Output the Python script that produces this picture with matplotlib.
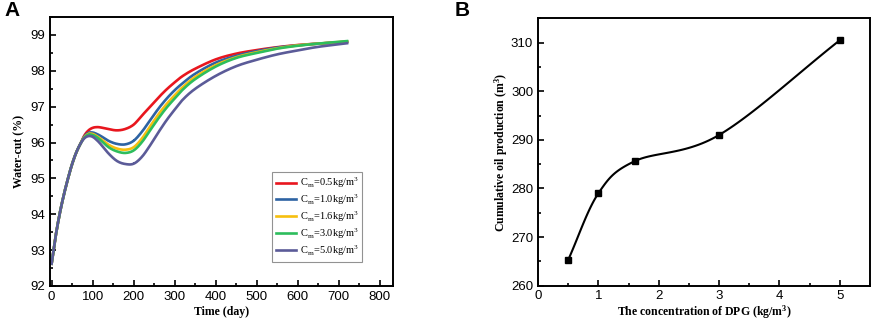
import numpy as np
import matplotlib.pyplot as plt
from matplotlib.ticker import MultipleLocator

plt.rcParams['font.family'] = 'Liberation Sans'
plt.rcParams['mathtext.fontset'] = 'stix'

# Panel A: water-cut vs time for each DPG concentration
time = [0, 10, 20, 30, 40, 50, 60, 70, 80, 90, 100, 110, 120, 140, 160, 180,
        200, 220, 240, 260, 280, 300, 320, 350, 400, 450, 500, 550, 600, 650, 720]
early = [92.62, 93.4, 94.03, 94.55, 95.0, 95.4, 95.72, 95.96]
wc_05 = early + [96.2, 96.34, 96.41, 96.43, 96.42, 96.37, 96.34, 96.38, 96.5, 96.75,
                 97.0, 97.25, 97.48, 97.68, 97.86, 98.06, 98.32, 98.48, 98.58, 98.66,
                 98.72, 98.76, 98.81]
wc_10 = early + [96.17, 96.27, 96.28, 96.24, 96.18, 96.04, 95.96, 95.95, 96.05, 96.3,
                 96.62, 96.94, 97.22, 97.46, 97.66, 97.92, 98.23, 98.42, 98.55, 98.65,
                 98.71, 98.76, 98.8]
wc_16 = early + [96.15, 96.24, 96.24, 96.18, 96.1, 95.93, 95.83, 95.8, 95.87, 96.11,
                 96.45, 96.78, 97.07, 97.32, 97.55, 97.83, 98.16, 98.38, 98.52, 98.63,
                 98.71, 98.76, 98.82]
wc_30 = early + [96.14, 96.22, 96.21, 96.15, 96.06, 95.86, 95.75, 95.71, 95.78, 96.01,
                 96.34, 96.67, 96.97, 97.23, 97.48, 97.77, 98.12, 98.36, 98.5, 98.62,
                 98.7, 98.76, 98.83]
wc_50 = early + [96.12, 96.18, 96.16, 96.07, 95.95, 95.68, 95.48, 95.4, 95.41, 95.6,
                 95.92, 96.28, 96.62, 96.92, 97.2, 97.5, 97.86, 98.13, 98.31, 98.46,
                 98.57, 98.67, 98.77]
series_a = [wc_05, wc_10, wc_16, wc_30, wc_50]
labels_a = ['0.5', '1.0', '1.6', '3.0', '5.0']
colors_a = ['#e8161e', '#2d63a3', '#f6bf0f', '#2dbd5c', '#5b5b98']

# Panel B: cumulative oil production vs concentration
conc = [0.5, 1.0, 1.6, 3.0, 5.0]
oil = [265.3, 279.0, 285.6, 291.0, 310.5]


def smooth(x, y, n=30):
    # Catmull-Rom curve through the points, just for drawing
    x = np.asarray(x, float)
    y = np.asarray(y, float)
    px = np.concatenate([[2 * x[0] - x[1]], x, [2 * x[-1] - x[-2]]])
    py = np.concatenate([[2 * y[0] - y[1]], y, [2 * y[-1] - y[-2]]])
    xs, ys = [], []
    t = np.linspace(0, 1, n)
    for i in range(1, len(px) - 2):
        for p, out in ((px, xs), (py, ys)):
            p0, p1, p2, p3 = p[i - 1], p[i], p[i + 1], p[i + 2]
            out.extend(0.5 * (2 * p1 + (-p0 + p2) * t + (2 * p0 - 5 * p1 + 4 * p2 - p3) * t ** 2
                              + (-p0 + 3 * p1 - 3 * p2 + p3) * t ** 3))
    return xs, ys


def style_axes(ax):
    for s in ax.spines.values():
        s.set_linewidth(1.4)
    ax.tick_params(which='both', direction='in', top=False, right=False, labelsize=9.5, width=1.2)
    ax.tick_params(which='major', length=4)
    ax.tick_params(which='minor', length=2.5)


serif = dict(family='Liberation Serif', fontweight='bold', fontsize=8.5)

fig = plt.figure(figsize=(8.72, 3.22), dpi=100)

ax1 = fig.add_axes([0.0573, 0.112, 0.3934, 0.835])
for vals, lab, c in zip(series_a, labels_a, colors_a):
    sx, sy = smooth(time, vals, n=12)
    ax1.plot(sx, sy, color=c, lw=1.9,
             label=r'C$_\mathregular{m}$=' + lab + r'kg/m$^\mathregular{3}$')
ax1.set_xlim(-4, 832)
ax1.set_ylim(92, 99.5)
ax1.xaxis.set_major_locator(MultipleLocator(100))
ax1.xaxis.set_minor_locator(MultipleLocator(50))
ax1.yaxis.set_major_locator(MultipleLocator(1))
ax1.yaxis.set_minor_locator(MultipleLocator(0.5))
style_axes(ax1)
ax1.set_xlabel('Time (day)', labelpad=2, **serif)
ax1.set_ylabel('Water-cut (%)', labelpad=4, **serif)
leg = ax1.legend(loc='lower right', bbox_to_anchor=(0.91, 0.09), fancybox=False,
                 prop={'family': 'Liberation Serif', 'size': 7.5}, handlelength=1.9,
                 labelspacing=0.2, borderpad=0.35, handletextpad=0.35, borderaxespad=0)
leg.get_frame().set_edgecolor('#777777')
leg.get_frame().set_linewidth(0.8)

ax2 = fig.add_axes([0.617, 0.113, 0.3807, 0.830])
sx, sy = smooth(conc, oil)
ax2.plot(sx, sy, color='black', lw=1.5)
ax2.plot(conc, oil, 's', color='black', ms=4.5)
ax2.set_xlim(0, 5.5)
ax2.set_ylim(260, 315)
ax2.xaxis.set_major_locator(MultipleLocator(1))
ax2.xaxis.set_minor_locator(MultipleLocator(0.5))
ax2.yaxis.set_major_locator(MultipleLocator(10))
ax2.yaxis.set_minor_locator(MultipleLocator(5))
style_axes(ax2)
ax2.set_xlabel(r'The concentration of DPG (kg/m$^\mathregular{3}$)', labelpad=1, **serif)
ax2.set_ylabel(r'Cumulative oil production (m$^\mathregular{3}$)', labelpad=1, **serif)

fig.text(0.005, 0.95, 'A', fontsize=15, fontweight='bold')
fig.text(0.521, 0.95, 'B', fontsize=15, fontweight='bold')

fig.savefig('out.png', dpi=100)
